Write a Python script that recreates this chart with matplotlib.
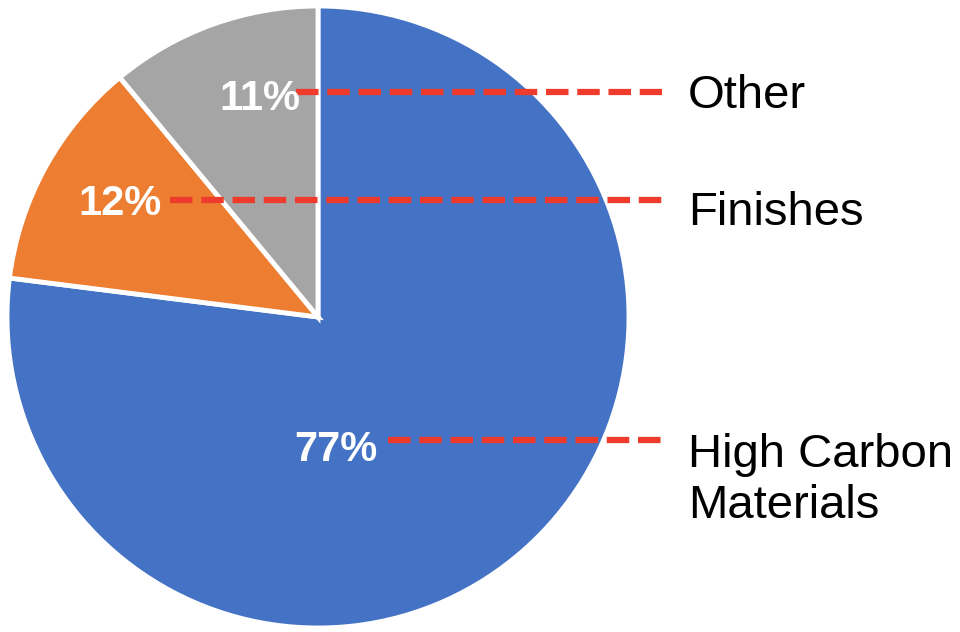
import matplotlib.pyplot as plt

plt.rcParams['font.family'] = ['Liberation Sans', 'DejaVu Sans']

categories = ['High Carbon\nMaterials', 'Finishes', 'Other']
shares = [77, 12, 11]
colors = ['#4472C4', '#ED7D31', '#A5A5A5']

W, H = 960, 632
cx, cy, r = 318, 317, 311   # pie centre and radius in pixels


def px(x, y):
    # pixel position (from top-left) -> data units around the pie centre
    return (x - cx) / r, (cy - y) / r


fig = plt.figure(figsize=(W / 100, H / 100), dpi=100)
ax = fig.add_axes([0, 0, 1, 1])
ax.pie(shares, colors=colors, startangle=90, counterclock=False,
       wedgeprops=dict(edgecolor='white', linewidth=3.5))
ax.set_xlim(-cx / r, (W - cx) / r)
ax.set_ylim(-(H - cy) / r, cy / r)
ax.set_aspect('equal')
ax.axis('off')

# percent label (right edge, baseline), leader line (start x, y),
# baseline of the last line of the name
spots = [
    ((377, 461), (388, 440), 518),
    ((162, 215), (170, 200), 225),
    ((300, 110), (296, 92), 108),
]
red = '#EF3B2C'
for cat, val, (lab, line, name_y) in zip(categories, shares, spots):
    x0, y0 = px(*line)
    x1, _ = px(662, line[1])
    ax.plot([x0, x1], [y0, y0], color=red, lw=4.5, solid_capstyle='butt',
            dash_capstyle='butt', dashes=(3.6, 1.4))
    ax.text(*px(*lab), f'{val}%', color='white', fontsize=30,
            fontweight='bold', ha='right', va='baseline')
    ax.text(*px(688, name_y), cat, color='black', fontsize=34,
            ha='left', va='baseline', linespacing=1.2)

fig.savefig('out.png', dpi=100)
